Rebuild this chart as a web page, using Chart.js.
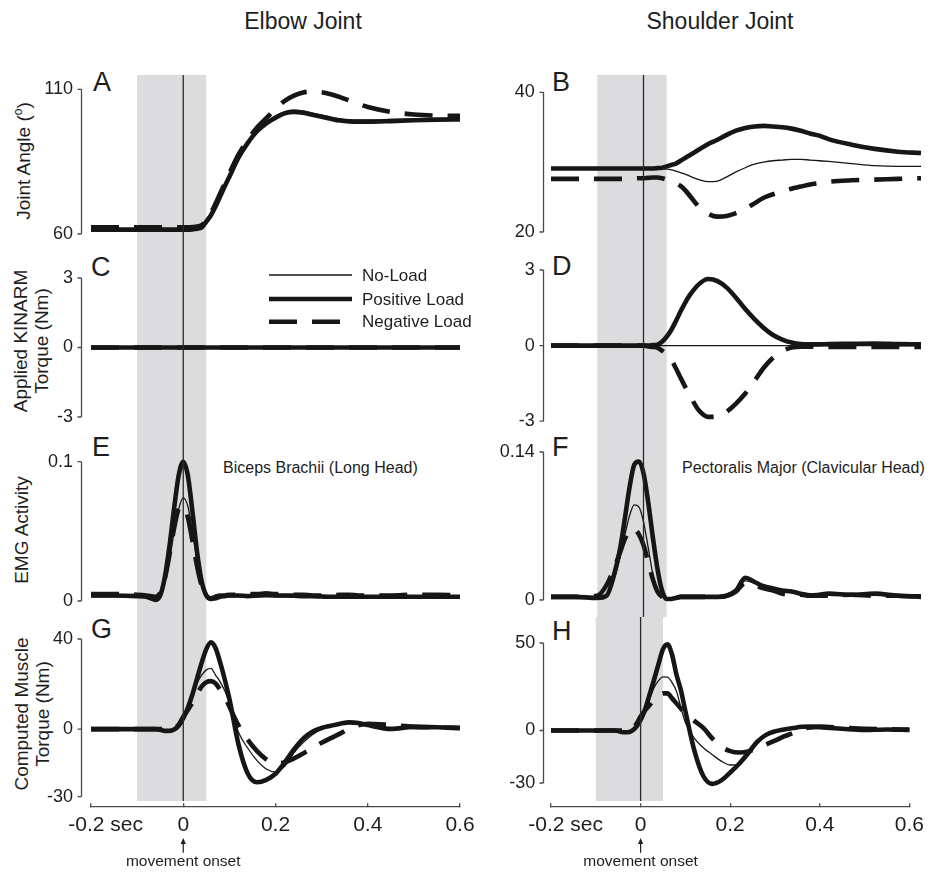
<!DOCTYPE html>
<html lang="en">
  <head>
    <meta charset="UTF-8" />
    <title>Elbow and Shoulder Joint</title>
    <script src="https://cdn.jsdelivr.net/npm/chart.js@4.4.1/dist/chart.umd.min.js"></script>
    <style>
      body { margin: 0; background: #fff; }
      #fig {
        position: relative; width: 934px; height: 872px; overflow: hidden;
        font-family: "Liberation Sans", Arial, Helvetica, sans-serif; color: #1e1e1e;
      }
      #fig canvas { position: absolute; }
      .txt { position: absolute; white-space: nowrap; line-height: 1; }
      .coltitle { font-size: 23px; width: 240px; text-align: center; }
      .letter { font-size: 27px; }
      .note { font-size: 16px; }
      .ytitle {
        position: absolute; white-space: nowrap; font-size: 19px; line-height: 21px;
        text-align: center; transform: translate(-50%, -50%) rotate(-90deg);
      }
    </style>
  </head>
  <body>
    <div id="fig">
      <div class="txt coltitle" style="left: 183px; top: 9.8px">Elbow Joint</div>
      <div class="txt coltitle" style="left: 600px; top: 9.8px">Shoulder Joint</div>

      <div class="ytitle" style="left: 21px; top: 161px">Joint Angle (<sup style="font-size: 12px">o</sup>)</div>
      <div class="ytitle" style="left: 31px; top: 341px">Applied KINARM<br />Torque (Nm)</div>
      <div class="ytitle" style="left: 21px; top: 530px">EMG Activity</div>
      <div class="ytitle" style="left: 32px; top: 714px">Computed Muscle<br />Torque (Nm)</div>

      <div class="txt letter" style="left: 93px; top: 69px">A</div>
      <div class="txt letter" style="left: 552px; top: 69px">B</div>
      <div class="txt letter" style="left: 91px; top: 253.5px">C</div>
      <div class="txt letter" style="left: 552px; top: 253px">D</div>
      <div class="txt letter" style="left: 92px; top: 434px">E</div>
      <div class="txt letter" style="left: 552px; top: 434px">F</div>
      <div class="txt letter" style="left: 91px; top: 616px">G</div>
      <div class="txt letter" style="left: 552px; top: 618px">H</div>

      <div class="txt note" style="left: 223px; top: 460px">Biceps Brachii (Long Head)</div>
      <div class="txt note" style="left: 682px; top: 460px">Pectoralis Major (Clavicular Head)</div>
    </div>

    <script>
      // sample times (s), relative to movement onset
      const time = [-0.2, -0.15, -0.1, -0.08, -0.06, -0.05, -0.04, -0.03, -0.02, -0.01,
        0, 0.01, 0.02, 0.03, 0.04, 0.05, 0.06, 0.07, 0.08, 0.09, 0.1,
        0.12, 0.14, 0.16, 0.18, 0.2, 0.22, 0.24, 0.26, 0.28, 0.3, 0.32, 0.34, 0.36, 0.38, 0.4,
        0.45, 0.5, 0.55, 0.6];

      const xTicks = [-0.2, 0, 0.2, 0.4, 0.6];
      const shadeFrom = -0.1;
      const shadeTo = 0.05;
      const onsetTime = 0;

      // joint angles (deg)
      const elbowAngleNoLoad = [61.5, 61.5, 61.5, 61.5, 61.5, 61.5, 61.5, 61.5, 61.5, 61.5,
        61.5, 61.5, 61.6, 61.8, 62.3, 64.3, 66.5, 69.5, 73, 76.5, 79.8,
        86.5, 91.6, 95.8, 98.6, 100.8, 102.3, 102.8, 102.5, 101.8, 101.1, 100.4, 99.8, 99.5, 99.4, 99.4,
        99.6, 99.8, 100, 100.1];
      const elbowAnglePositive = [61.5, 61.5, 61.5, 61.5, 61.5, 61.5, 61.5, 61.5, 61.5, 61.5,
        61.5, 61.5, 61.6, 61.8, 62.3, 64.3, 66.5, 69.5, 73, 76.5, 79.8,
        86.5, 91.5, 95.5, 98.2, 100.2, 101.7, 102.2, 101.9, 101.2, 100.5, 99.8, 99.2, 98.9, 98.8, 98.8,
        99, 99.3, 99.5, 99.6];
      const elbowAngleNegative = [62.3, 62.3, 62.3, 62.3, 62.3, 62.3, 62.3, 62.3, 62.3, 62.3,
        62.3, 62.3, 62.4, 62.6, 63.1, 64.8, 67.3, 70.5, 74, 77.5, 81,
        87.5, 92.5, 96.8, 100, 103.2, 106, 107.8, 108.9, 109.2, 109, 108.3, 107.3, 106.1, 104.9, 103.9,
        102.2, 101.3, 100.9, 100.8];

      const shoulderAngleNoLoad = [29.1, 29.1, 29.1, 29.1, 29.1, 29.1, 29.1, 29.1, 29.1, 29.1,
        29.1, 29.1, 29.1, 29.1, 29.05, 29, 28.9, 28.7, 28.5, 28.3, 28,
        27.5, 27.2, 27.3, 27.9, 28.6, 29.2, 29.7, 30, 30.2, 30.3, 30.4, 30.4, 30.3, 30.2, 30.1,
        29.8, 29.5, 29.4, 29.4];
      const shoulderAnglePositive = [29.1, 29.1, 29.1, 29.1, 29.1, 29.1, 29.1, 29.1, 29.1, 29.1,
        29.1, 29.1, 29.1, 29.15, 29.2, 29.4, 29.6, 29.8, 30.2, 30.6, 31,
        31.8, 32.6, 33.2, 33.9, 34.5, 34.9, 35.1, 35.2, 35.1, 35, 34.8, 34.5, 34.1, 33.8, 33.3,
        32.5, 31.9, 31.5, 31.3];
      const shoulderAngleNegative = [27.6, 27.6, 27.6, 27.6, 27.6, 27.6, 27.6, 27.6, 27.65, 27.7,
        27.7, 27.75, 27.8, 27.8, 27.7, 27.5, 27.3, 27, 26.6, 26, 25.2,
        23.6, 22.6, 22.2, 22.3, 22.7, 23.3, 24.1, 24.9, 25.4, 25.8, 26.2, 26.5, 26.8, 27, 27.2,
        27.4, 27.5, 27.6, 27.7];

      // torque applied by the KINARM (Nm); the elbow was never loaded
      const elbowApplied = [0, 0, 0, 0, 0, 0, 0, 0, 0, 0,
        0, 0, 0, 0, 0, 0, 0, 0, 0, 0, 0,
        0, 0, 0, 0, 0, 0, 0, 0, 0, 0, 0, 0, 0, 0, 0,
        0, 0, 0, 0];
      const shoulderAppliedNoLoad = [0, 0, 0, 0, 0, 0, 0, 0, 0, 0,
        0, 0, 0, 0, 0, 0, 0, 0, 0, 0, 0,
        0, 0, 0, 0, 0, 0, 0, 0, 0, 0, 0, 0, 0, 0, 0,
        0, 0, 0, 0];
      const shoulderAppliedPositive = [0, 0, 0, 0, 0, 0, 0, 0, 0, 0,
        0, 0, 0.02, 0.04, 0.15, 0.35, 0.62, 0.97, 1.35, 1.7, 2,
        2.44, 2.64, 2.56, 2.3, 1.9, 1.45, 1.05, 0.7, 0.42, 0.24, 0.12, 0.06, 0.05, 0.05, 0.06,
        0.07, 0.08, 0.06, 0.05];
      const shoulderAppliedNegative = [0, 0, 0, 0, 0, 0, 0, 0, 0, 0,
        0, -0.03, -0.05, -0.08, -0.2, -0.35, -0.55, -0.9, -1.27, -1.63, -1.97,
        -2.58, -2.83, -2.82, -2.62, -2.3, -1.9, -1.4, -0.88, -0.48, -0.22, -0.08, -0.04, -0.04, -0.05, -0.05,
        -0.05, -0.05, -0.05, -0.05];

      // EMG activity
      const elbowEmgNoLoad = [0.003, 0.003, 0.003, 0.003, 0.001, 0.004, 0.013, 0.029, 0.049, 0.066,
        0.074, 0.068, 0.05, 0.029, 0.013, 0.005, 0.002, 0.002, 0.003, 0.003, 0.003,
        0.003, 0.003, 0.003, 0.003, 0.003, 0.003, 0.003, 0.003, 0.003, 0.003, 0.003, 0.003, 0.003, 0.003, 0.003,
        0.003, 0.003, 0.003, 0.003];
      const elbowEmgPositive = [0.004, 0.004, 0.0035, 0.003, 0.0008, 0.004, 0.017, 0.039, 0.066, 0.09,
        0.1, 0.09, 0.064, 0.035, 0.014, 0.004, 0.0015, 0.002, 0.003, 0.0035, 0.004,
        0.004, 0.0035, 0.004, 0.0045, 0.004, 0.004, 0.0038, 0.0035, 0.0035, 0.0032, 0.003, 0.003, 0.003, 0.003, 0.003,
        0.003, 0.003, 0.003, 0.003];
      const elbowEmgNegative = [0.005, 0.005, 0.0045, 0.004, 0.003, 0.006, 0.016, 0.033, 0.052, 0.066,
        0.068, 0.06, 0.043, 0.025, 0.011, 0.004, 0.002, 0.003, 0.004, 0.004, 0.0045,
        0.0045, 0.005, 0.005, 0.0055, 0.005, 0.005, 0.0045, 0.0045, 0.004, 0.004, 0.004, 0.0045, 0.0045, 0.004, 0.004,
        0.004, 0.0045, 0.0045, 0.004];

      const shoulderEmgNoLoad = [0.003, 0.003, 0.003, 0.004, 0.025, 0.042, 0.062, 0.08, 0.09, 0.088,
        0.074, 0.05, 0.025, 0.009, 0.003, 0.002, 0.002, 0.003, 0.003, 0.003, 0.003,
        0.003, 0.003, 0.003, 0.004, 0.01, 0.018, 0.016, 0.013, 0.011, 0.01, 0.008, 0.007, 0.006, 0.005, 0.005,
        0.006, 0.005, 0.005, 0.005];
      const shoulderEmgPositive = [0.003, 0.003, 0.002, 0.004, 0.03, 0.05, 0.078, 0.107, 0.128, 0.131,
        0.12, 0.093, 0.06, 0.03, 0.009, 0.001, 0.001, 0.002, 0.003, 0.003, 0.003,
        0.003, 0.003, 0.003, 0.004, 0.009, 0.021, 0.017, 0.013, 0.011, 0.009, 0.008, 0.006, 0.004, 0.005, 0.006,
        0.005, 0.006, 0.004, 0.003];
      const shoulderEmgNegative = [0.003, 0.003, 0.004, 0.014, 0.034, 0.046, 0.058, 0.066, 0.067, 0.062,
        0.052, 0.036, 0.02, 0.008, 0.003, 0.002, 0.002, 0.002, 0.003, 0.003, 0.003,
        0.003, 0.003, 0.003, 0.004, 0.008, 0.016, 0.014, 0.011, 0.009, 0.006, 0.005, 0.005, 0.004, 0.004, 0.004,
        0.005, 0.004, 0.004, 0.003];

      // computed muscle torque (Nm)
      const elbowTorqueNoLoad = [0, 0, 0, 0, 0, -0.3, -0.7, -0.7, -0.2, 1.5,
        4.8, 9.5, 15, 20.5, 24, 26.3, 27, 24, 21, 17, 11.5,
        -1.5, -8.5, -14, -17.7, -19, -16.5, -10.5, -6, -2.5, 0, 1.3, 2.3, 2.8, 2.6, 1.8,
        0.3, 1, 0.7, 0.4];
      const elbowTorquePositive = [0, 0, 0, 0, 0, -0.3, -0.8, -0.8, -0.2, 1.5,
        4.8, 9.5, 15.5, 22.5, 29.5, 35.5, 38.5, 36, 29.6, 22, 13.5,
        -7, -19.8, -23.6, -22.5, -19.8, -14.8, -9, -4.2, -1.2, 0.5, 1.5, 2.4, 3, 2.7, 1.8,
        0.1, 1, 0.8, 0.4];
      const elbowTorqueNegative = [0, 0, 0, 0, 0, 0, 0, 0, 0.3, 2,
        5.5, 8.5, 11.8, 15.5, 19, 20.8, 21.3, 20.3, 17.5, 14.5, 10,
        1.5, -4.8, -9.8, -13.4, -15.2, -14.7, -13, -10.8, -8.5, -6.1, -4, -2, 0.2, 1.7, 2.4,
        1.8, 1, 0.8, 0.6];

      const shoulderTorqueNoLoad = [0, 0, 0, 0, 0, -0.3, -0.8, -0.8, -0.3, 2,
        6, 11, 18, 24.5, 28.5, 30.7, 30.5, 27.5, 22.5, 13, 4.5,
        -4.5, -9.8, -13.8, -17.5, -19.7, -19.3, -14, -7.8, -3, -0.8, 0.5, 1.3, 2, 2.1, 1.8,
        1, 0.3, 0.6, 0.3];
      const shoulderTorquePositive = [0, 0, 0, 0, 0, -0.3, -1, -1, -0.3, 2,
        6, 12, 20.5, 29, 38, 46.5, 49.2, 43.5, 32, 23, 11,
        -11.5, -26, -30.5, -28.5, -24, -19, -13, -6.5, -2.5, -0.5, 0.6, 1.4, 2.1, 2.2, 1.9,
        1, 0.3, 0.6, 0.3];
      const shoulderTorqueNegative = [0, 0, 0, 0, 0, 0, 0, 0, 0.5, 3.5,
        8, 11.5, 14.5, 18, 20, 21.2, 21.3, 18.5, 15.5, 12.5, 9.5,
        5.5, 1.5, -4.5, -9.2, -11.8, -12.6, -12, -10.2, -8, -5.8, -3.4, -1.5, 0.8, 1.8, 2.2,
        1.6, 1, 0.7, 0.5];

      // page layout (px)
      const rowTop = [0, 252, 433, 617];
      const rowHeight = [252, 181, 184, 255];
      const colLeft = [0, 467];
      const colWidth = [490, 467];
      const plotLeft = [91, 84];
      const plotRight = [460, 454];
      const spineGap = [10, 8.3];
      const tickLen = 4;
      const labelGap = 4;
      const bandTop = 75;
      const bandBottom = 801;
      const xAxisY = 807;

      const ink = "#161616";
      const axisInk = "#4a4a4a";
      const textInk = "#1e1e1e";
      const fontFamily = '"Liberation Sans", Arial, Helvetica, sans-serif';

      const conditions = [
        { label: "No-Load", borderWidth: 1.3, borderDash: [] },
        { label: "Negative Load", borderWidth: 4.6, borderDash: [28, 15] },
        { label: "Positive Load", borderWidth: 4.6, borderDash: [] },
      ];

      const panels = [
        { col: 0, row: 0, top: 89.3, bottom: 234, min: 60, max: 110, ticks: [60, 110],
          series: [elbowAngleNoLoad, elbowAngleNegative, elbowAnglePositive] },
        { col: 1, row: 0, top: 92.3, bottom: 232, min: 20, max: 40, ticks: [20, 40],
          series: [shoulderAngleNoLoad, shoulderAngleNegative, shoulderAnglePositive] },
        { col: 0, row: 1, top: 278, bottom: 417, min: -3, max: 3, ticks: [-3, 0, 3],
          series: [elbowApplied, elbowApplied, elbowApplied], key: true },
        { col: 1, row: 1, top: 270, bottom: 423, min: -3, max: 3, ticks: [-3, 0, 3],
          series: [shoulderAppliedNoLoad, shoulderAppliedNegative, shoulderAppliedPositive] },
        { col: 0, row: 2, top: 461.7, bottom: 601, min: 0, max: 0.1, ticks: [0, 0.1],
          series: [elbowEmgNoLoad, elbowEmgNegative, elbowEmgPositive] },
        { col: 1, row: 2, top: 452, bottom: 600, min: 0, max: 0.14, ticks: [0, 0.14],
          series: [shoulderEmgNoLoad, shoulderEmgNegative, shoulderEmgPositive] },
        { col: 0, row: 3, top: 639, bottom: 796.7, min: -30, max: 40, ticks: [-30, 0, 40],
          series: [elbowTorqueNoLoad, elbowTorqueNegative, elbowTorquePositive], xAxis: true },
        { col: 1, row: 3, top: 643, bottom: 783, min: -30, max: 50, ticks: [-30, 0, 50],
          series: [shoulderTorqueNoLoad, shoulderTorqueNegative, shoulderTorquePositive], xAxis: true },
      ];

      // grey pre-movement window and the onset line, running through every row
      const onsetPlugin = {
        id: "onset",
        beforeDatasetsDraw(chart, args, opts) {
          const x = chart.scales.x;
          const x0 = x.getPixelForValue(shadeFrom);
          const x1 = x.getPixelForValue(shadeTo);
          const ctx = chart.ctx;
          ctx.save();
          ctx.fillStyle = "#dcdcde";
          ctx.fillRect(x0, opts.top, x1 - x0, opts.bottom - opts.top);
          ctx.restore();
        },
        afterDatasetsDraw(chart, args, opts) {
          const xo = chart.scales.x.getPixelForValue(onsetTime);
          const ctx = chart.ctx;
          ctx.save();
          ctx.strokeStyle = "#2a2a2a";
          ctx.lineWidth = 1.3;
          ctx.beginPath();
          ctx.moveTo(xo, opts.top);
          ctx.lineTo(xo, opts.bottom);
          ctx.stroke();
          ctx.restore();
        },
      };

      // detached y spine: spans only the tick range, with short outward ticks
      const spinePlugin = {
        id: "spine",
        afterDraw(chart, args, opts) {
          const y = chart.scales.y;
          const sx = Math.round(chart.scales.x.getPixelForValue(opts.at)) + 0.5;
          const ctx = chart.ctx;
          ctx.save();
          ctx.strokeStyle = axisInk;
          ctx.lineWidth = 1.3;
          ctx.beginPath();
          ctx.moveTo(sx, y.getPixelForValue(y.max));
          ctx.lineTo(sx, y.getPixelForValue(y.min));
          y.ticks.forEach((t) => {
            const py = y.getPixelForValue(t.value);
            ctx.moveTo(sx, py);
            ctx.lineTo(sx - tickLen, py);
          });
          ctx.stroke();
          ctx.restore();
        },
      };

      // line-style key (panel C)
      const keyPlugin = {
        id: "styleKey",
        afterDraw(chart, args, opts) {
          if (!opts.show) return;
          const ctx = chart.ctx;
          const order = ["No-Load", "Positive Load", "Negative Load"];
          ctx.save();
          ctx.font = "17px " + fontFamily;
          ctx.textBaseline = "middle";
          order.forEach((name, i) => {
            const ds = chart.data.datasets.find((d) => d.label === name);
            const y = opts.rows[i];
            ctx.strokeStyle = ds.borderColor;
            ctx.lineWidth = ds.borderWidth;
            ctx.setLineDash(ds.borderDash);
            ctx.beginPath();
            ctx.moveTo(opts.x0, y);
            ctx.lineTo(opts.x1, y);
            ctx.stroke();
            ctx.setLineDash([]);
            ctx.fillStyle = textInk;
            ctx.fillText(name, opts.textX, y + 1);
          });
          ctx.restore();
        },
      };

      // arrow and caption under the onset tick
      const onsetLabelPlugin = {
        id: "onsetLabel",
        afterDraw(chart, args, opts) {
          if (!opts.show) return;
          const ctx = chart.ctx;
          const xo = chart.scales.x.getPixelForValue(onsetTime);
          ctx.save();
          ctx.strokeStyle = textInk;
          ctx.fillStyle = textInk;
          ctx.lineWidth = 1.2;
          ctx.beginPath();
          ctx.moveTo(xo, opts.arrowBottom);
          ctx.lineTo(xo, opts.arrowTop + 4);
          ctx.stroke();
          ctx.beginPath();
          ctx.moveTo(xo, opts.arrowTop);
          ctx.lineTo(xo - 2.6, opts.arrowTop + 6);
          ctx.lineTo(xo + 2.6, opts.arrowTop + 6);
          ctx.closePath();
          ctx.fill();
          ctx.font = "15.5px " + fontFamily;
          ctx.textAlign = "center";
          ctx.textBaseline = "alphabetic";
          ctx.fillText("movement onset", xo, opts.baseline);
          ctx.restore();
        },
      };

      // the first label keeps its number over the tick, with the unit trailing
      function xTickLabel(v) {
        const r = Math.round(v * 10) / 10;
        return r === -0.2 ? "     -0.2 sec" : String(r);
      }

      const fig = document.getElementById("fig");

      panels.forEach((p) => {
        const top0 = rowTop[p.row];
        const h = rowHeight[p.row];
        const w = colWidth[p.col];
        const canvas = document.createElement("canvas");
        canvas.width = w;
        canvas.height = h;
        canvas.style.left = colLeft[p.col] + "px";
        canvas.style.top = top0 + "px";
        fig.appendChild(canvas);

        const plotW = plotRight[p.col] - plotLeft[p.col];
        const plotH = p.bottom - p.top;
        const perPx = (0.6 - -0.2) / plotW;
        // y spine sits a little left of the first sample, x axis a little below the y range
        const spineAt = xTicks[0] - spineGap[p.col] * perPx;
        const labelAt = xTicks[0] - (spineGap[p.col] + tickLen + labelGap) * perPx;
        const xAxisAt = p.min - ((xAxisY - p.bottom) * (p.max - p.min)) / plotH;

        const datasets = conditions.map((c, i) => ({
          label: c.label,
          data: p.series[i],
          borderColor: ink,
          borderWidth: c.borderWidth,
          borderDash: c.borderDash,
          borderJoinStyle: "round",
          pointRadius: 0,
          cubicInterpolationMode: "monotone",
          fill: false,
          clip: false,
        }));

        new Chart(canvas, {
          type: "line",
          data: { labels: time, datasets: datasets },
          options: {
            responsive: false,
            animation: false,
            devicePixelRatio: 1,
            layout: {
              padding: {
                left: plotLeft[p.col],
                right: w - plotRight[p.col],
                top: p.top - top0,
                bottom: top0 + h - p.bottom,
              },
            },
            plugins: {
              legend: { display: false },
              tooltip: { enabled: false },
              onset: { top: bandTop - top0, bottom: bandBottom - top0 },
              spine: { at: spineAt },
              styleKey: { show: !!p.key, x0: 269, x1: 352, textX: 362, rows: [23, 47, 69.7] },
              onsetLabel: { show: !!p.xAxis, arrowTop: 221, arrowBottom: 235.7, baseline: 249 },
            },
            scales: {
              x: {
                type: "linear",
                min: -0.2,
                max: 0.6,
                display: !!p.xAxis,
                position: p.xAxis ? { y: xAxisAt } : "bottom",
                afterBuildTicks: (s) => {
                  s.ticks = xTicks.map((v) => ({ value: v }));
                },
                ticks: {
                  callback: (v) => xTickLabel(v),
                  autoSkip: false,
                  maxRotation: 0,
                  padding: 10,
                  color: textInk,
                  font: { family: fontFamily, size: 21 },
                },
                grid: { drawOnChartArea: false, drawTicks: true, tickLength: -4, color: axisInk, lineWidth: 1.3 },
                border: { display: true, color: axisInk, width: 1.3 },
              },
              y: {
                type: "linear",
                min: p.min,
                max: p.max,
                position: { x: labelAt },
                afterBuildTicks: (s) => {
                  s.ticks = p.ticks.map((v) => ({ value: v }));
                },
                ticks: {
                  callback: (v) => String(v),
                  autoSkip: false,
                  padding: 1,
                  color: textInk,
                  font: { family: fontFamily, size: 18 },
                },
                grid: { display: false },
                border: { display: false },
              },
            },
          },
          plugins: [onsetPlugin, spinePlugin, keyPlugin, onsetLabelPlugin],
        });
      });
    </script>
  </body>
</html>
